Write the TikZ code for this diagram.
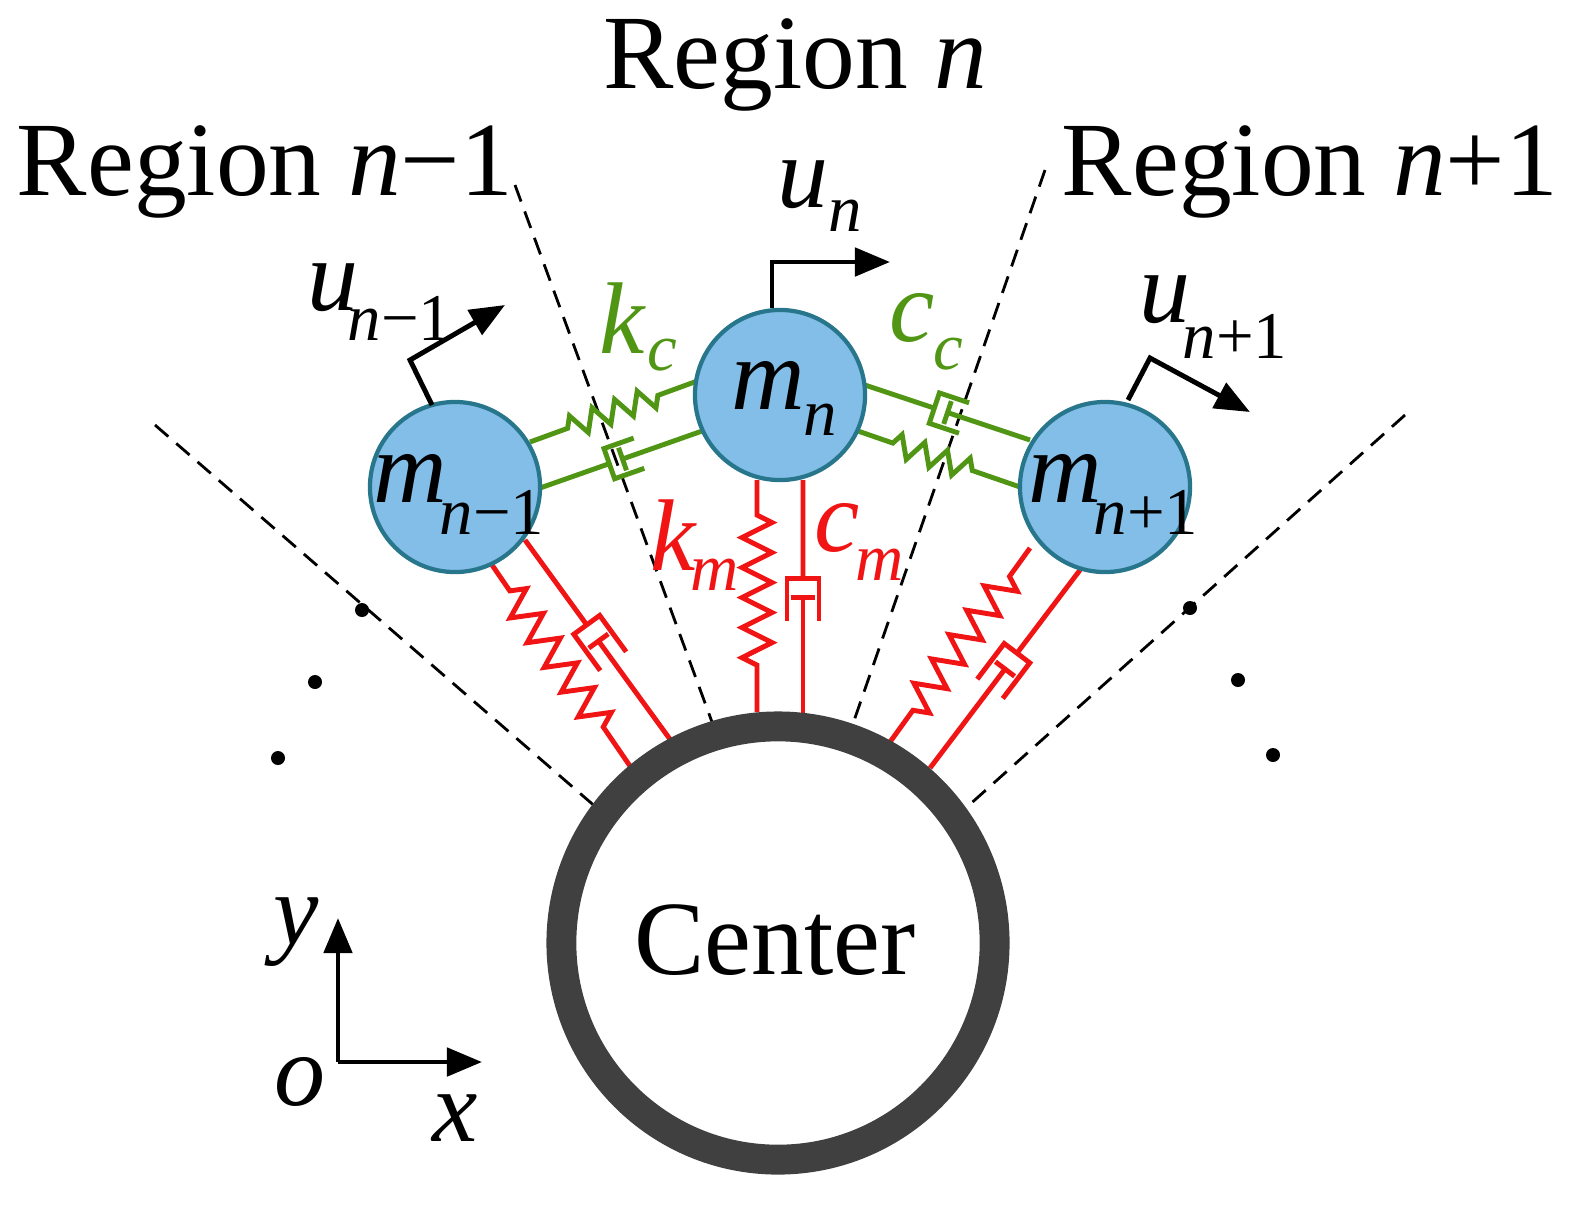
\documentclass[tikz,border=0pt]{standalone}
\usepackage{fontspec}
\setmainfont{Liberation Serif}
\usetikzlibrary{calc,decorations.pathmorphing,arrows.meta}
\definecolor{massfill}{RGB}{130,190,232}
\definecolor{massedge}{RGB}{40,118,140}
\definecolor{grn}{RGB}{80,150,20}
\definecolor{rd}{RGB}{240,20,20}
\definecolor{ring}{RGB}{64,64,64}
\tikzset{
 mass/.style={circle,draw=massedge,line width=1.2pt,fill=massfill,minimum size=1.7cm,inner sep=0},
 dashl/.style={dashed,line width=0.8pt,dash pattern=on 5pt off 3pt},
 spr/.style={line width=1.4pt,decorate,decoration={zigzag,segment length=0.3cm,amplitude=0.15cm,pre length=0.35cm,post length=0.35cm}},
 sprg/.style={line width=1.4pt,decorate,decoration={zigzag,segment length=0.24cm,amplitude=0.11cm,pre length=0.4cm,post length=0.4cm}},
 arr/.style={line width=1.4pt,-{Triangle[length=0.35cm,width=0.28cm]}},
 big/.style={font=\fontsize{30}{32}\selectfont},
 lab/.style={font=\fontsize{29}{30}\selectfont\itshape},
 sub/.style={font=\fontsize{19}{20}\selectfont\itshape},
 dot/.style={circle,fill=black,inner sep=0,minimum size=0.14cm}
}
\newcommand\damp[3]{%
 \draw[#3,line width=1.4pt] (#1) -- ($(#1)!0.42!(#2)$);
 \draw[#3,line width=1.4pt] ($($(#1)!0.6!(#2)$)!0.16cm!90:(#2)$) -- ($($(#1)!0.42!(#2)$)!0.16cm!90:(#2)$) -- ($($(#1)!0.42!(#2)$)!0.16cm!-90:(#2)$) -- ($($(#1)!0.6!(#2)$)!0.16cm!-90:(#2)$);
 \draw[#3,line width=1.4pt] (#2) -- ($(#1)!0.5!(#2)$);
 \draw[#3,line width=1.4pt] ($($(#1)!0.5!(#2)$)!0.12cm!90:(#2)$) -- ($($(#1)!0.5!(#2)$)!0.12cm!-90:(#2)$);
}
\begin{document}
\begin{tikzpicture}[x=0.01cm,y=-0.01cm]
\useasboundingbox (0,0) rectangle (1579,1205);
\draw[dashl] (515,185) -- (712,722);
\draw[dashl] (1045,170) -- (848,738);
\draw[dashl] (155,425) -- (605,815);
\draw[dashl] (1405,415) -- (958,815);
\node[dot] (d1) at (362,610) {}; \node[dot] (d2) at (315,682) {}; \node[dot] (d3) at (278,758) {};
\node[dot] (d4) at (1190,608) {}; \node[dot] (d5) at (1238,680) {}; \node[dot] (d6) at (1273,755) {};
\draw[rd,spr] (757,480) -- (757,712);
\damp{803,480}{803,715}{rd}
\draw[rd,spr] (490,562) -- (630,766);
\damp{525,540}{672,742}{rd}
\draw[rd,spr] (1030,548) -- (890,742);
\damp{1080,570}{930,768}{rd}
\draw[grn,sprg] (530,442) -- (700,380);
\damp{540,488}{705,430}{grn}
\damp{865,385}{1030,440}{grn}
\draw[grn,sprg] (855,430) -- (1020,487);
\node[mass] (m1) at (455,487) {};
\node[mass] (m2) at (780,395) {};
\node[mass] (m3) at (1105,487) {};
\node[lab] at (410,478) {m}; \node[sub] at (492,512) {n\upshape−1};
\node[lab] at (768,385) {m}; \node[sub] at (820,420) {n};
\node[lab] at (1065,478) {m}; \node[sub] at (1146,512) {n\upshape+1};
\node[circle,draw=ring,line width=8.5pt,minimum size=4.33cm,inner sep=0] (c) at (778,943) {};
\node[big] at (775,940) {Center};
\node[big] (r1) at (795,65) {Region \textit{n}};
\node[big] (r0) at (265,172) {Region \textit{n}−1};
\node[big] (r2) at (1310,172) {Region \textit{n}+1};
\coordinate (a1) at (772,308); \coordinate (a2) at (772,262); \coordinate (a3) at (890,262);
\draw[arr] (a1) -- (a2) -- (a3);
\node[lab] at (803,185) {u}; \node[sub] at (845,216) {n};
\coordinate (b1) at (432,405); \coordinate (b2) at (410,360); \coordinate (b3) at (505,305);
\draw[arr] (b1) -- (b2) -- (b3);
\node[lab] at (333,288) {u}; \node[sub] at (400,318) {n\upshape−1};
\coordinate (e1) at (1128,400); \coordinate (e2) at (1150,358); \coordinate (e3) at (1250,412);
\draw[arr] (e1) -- (e2) -- (e3);
\node[lab] at (1165,300) {u}; \node[sub] at (1235,336) {n\upshape+1};
\node[lab,text=grn] at (622,318) {k}; \node[sub,text=grn] at (662,355) {c};
\node[lab,text=grn] at (912,318) {c}; \node[sub,text=grn] at (948,354) {c};
\node[lab,text=rd] at (673,535) {k}; \node[sub,text=rd] at (715,575) {m};
\node[lab,text=rd] at (837,528) {c}; \node[sub,text=rd] at (880,565) {m};
\coordinate (o) at (338,1062); \coordinate (ya) at (338,918); \coordinate (xa) at (482,1062);
\draw[arr] (o) -- (ya);
\draw[arr] (o) -- (xa);
\node[lab] at (296,932) {y};
\node[lab] at (300,1082) {o};
\node[lab] at (455,1118) {x};
\end{tikzpicture}
\end{document}
